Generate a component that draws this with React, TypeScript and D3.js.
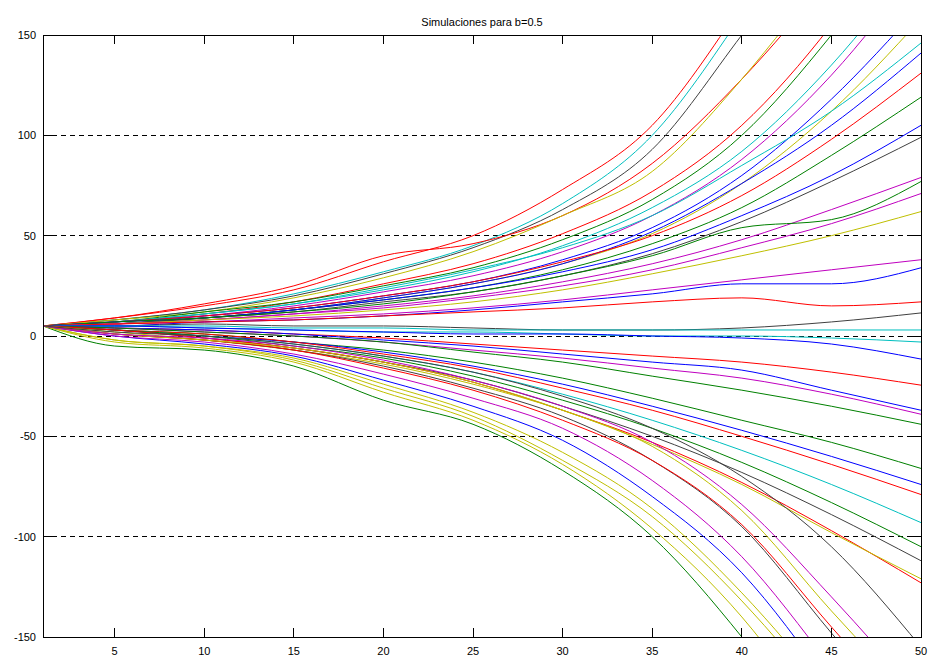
import React from "react";
import * as d3 from "d3";

const TITLE = "Simulaciones para b=0.5";
const STEPS = [1, 5, 10, 15, 20, 25, 30, 35, 40, 45, 50];
const X_TICKS = [5, 10, 15, 20, 25, 30, 35, 40, 45, 50];
const Y_TICKS = [-150, -100, -50, 0, 50, 100, 150];
const GRID_VALUES = [-100, -50, 0, 50, 100];

// paths that leave through the top edge
const topSeries = [
  [5, 9, 15, 23, 37, 50, 73, 105, 165, 235, 320],
  [5, 8, 13, 21, 32, 45, 66, 100, 160, 230, 300],
  [5, 8, 13, 20, 31, 44, 63, 93, 150, 210, 280],
  [5, 9, 16, 25, 40, 46, 60, 86, 128, 180, 240],
  [5, 8, 12, 19, 29, 42, 60, 82, 128, 185, 250],
  [5, 7, 11, 17, 26, 36, 51, 72, 105, 155, 220],
  [5, 7, 12, 17, 25, 34, 48, 68, 100, 150, 210],
  [5, 7, 11, 16, 23, 32, 45, 64, 92, 135, 190],
  [5, 6, 10, 15, 22, 30, 42, 60, 88, 130, 185],
  [5, 7, 10, 14, 20, 27, 38, 54, 80, 118, 165],
  [5, 6, 9, 13, 19, 26, 36, 51, 76, 112, 158],
];
const topColors = ["r", "c", "k", "r", "y", "r", "g", "c", "m", "b", "y"];

// paths ending in the upper half
const upperSeries = [
  [5, 7, 11, 16, 24, 33, 44, 60, 85, 112, 146],
  [5, 6, 9, 13, 19, 26, 36, 52, 76, 105, 141],
  [5, 7, 10, 14, 20, 27, 37, 50, 70, 98, 131],
  [5, 6, 9, 13, 18, 24, 33, 46, 64, 90, 119],
  [5, 7, 9, 13, 18, 24, 32, 43, 60, 80, 105],
  [5, 6, 9, 12, 17, 22, 30, 41, 57, 77, 99],
  [5, 6, 8, 11, 15, 20, 27, 36, 48, 63, 79],
  [5, 7, 9, 12, 16, 22, 30, 40, 54, 58, 77],
  [5, 6, 8, 11, 14, 19, 25, 33, 44, 56, 71],
  [5, 6, 8, 10, 13, 17, 23, 31, 40, 50, 62],
  [5, 6, 7, 9, 11, 14, 18, 23, 28, 33, 38],
  [5, 5, 7, 8, 10, 13, 17, 21, 26, 26, 34],
  [5, 6, 7, 8, 10, 12, 14, 17, 19, 15, 17],
  [5, 5, 6, 5, 5, 4, 3, 3, 4, 7, 11.5],
  [5, 5, 5, 4, 4, 3, 3, 3, 3, 3, 3],
];
const upperColors = ["c", "b", "r", "g", "b", "k", "m", "g", "m", "y", "m", "b", "r", "k", "c"];

// paths ending in the lower half
const lowerSeries = [
  [5, 5, 4, 3, 2, 2, 1, 0, 0, -1, -3],
  [5, 5, 4, 3, 2, 1, 1, 0, -1, -4, -11.5],
  [5, 4, 3, 1, -1, -4, -7, -10, -13, -18, -24.5],
  [5, 4, 3, 1, -2, -5, -9, -13, -17, -27, -37],
  [5, 4, 2, 0, -3, -7, -11, -16, -21, -29, -39],
  [5, 4, 2, 0, -3, -8, -13, -20, -27, -35, -44],
  [5, 3, 1, -3, -7, -13, -21, -31, -42, -53, -66],
  [5, 3, 0, -3, -8, -15, -24, -35, -47, -60, -74],
  [5, 3, 1, -3, -9, -16, -26, -37, -50, -64, -79],
  [5, 3, 0, -4, -10, -18, -29, -42, -57, -74, -93],
  [5, 3, 0, -5, -11, -20, -32, -46, -63, -83, -105],
  [5, 3, -1, -6, -13, -22, -35, -50, -68, -89, -112],
  [5, 3, -1, -6, -13, -23, -37, -53, -73, -97, -123],
  [5, 2, -2, -7, -14, -24, -37, -54, -74, -98, -121],
];
const lowerColors = ["c", "b", "r", "b", "m", "g", "g", "b", "r", "c", "g", "k", "r", "y"];

// paths that leave through the bottom edge
const bottomSeries = [
  [5, -5, -7, -15, -32, -44, -67, -100, -150, -210, -280],
  [5, -3, -6, -13, -28, -42, -64, -96, -140, -200, -270],
  [5, -2, -5, -12, -26, -40, -62, -90, -132, -185, -250],
  [5, -2, -5, -11, -24, -38, -58, -86, -128, -180, -240],
  [5, 0, -4, -10, -22, -35, -52, -80, -118, -175, -240],
  [5, 0, -3, -9, -19, -31, -46, -72, -110, -165, -225],
  [5, 1, -2, -7, -15, -26, -40, -62, -95, -148, -200],
  [5, 1, -2, -7, -16, -27, -42, -62, -94, -145, -195],
  [5, 1, -2, -6, -13, -23, -37, -55, -87, -137, -185],
  [5, 1, -1, -5, -12, -22, -35, -53, -84, -130, -180],
  [5, 2, 0, -4, -10, -18, -30, -46, -70, -105, -155],
];
const bottomColors = ["g", "y", "y", "y", "b", "m", "k", "r", "y", "m", "k"];

const COLOR_CODES: Record<string, string> = {
  b: "#0000ff",
  g: "#008000",
  r: "#ff0000",
  c: "#00bfbf",
  m: "#bf00bf",
  y: "#bfbf00",
  k: "#404040",
};

const W = 930;
const H = 661;
const M = { left: 43, right: 9, top: 35, bottom: 24 };

export default function App() {
  const x = d3.scaleLinear().domain([1, 50]).range([M.left, W - M.right]);
  const y = d3.scaleLinear().domain([-150, 150]).range([H - M.bottom, M.top]);
  const line = d3
    .line<number>()
    .x((_, i) => x(STEPS[i]))
    .y((d) => y(d))
    .curve(d3.curveMonotoneX);

  const all: { v: number[]; c: string }[] = [];
  const groups: [number[][], string[]][] = [
    [topSeries, topColors],
    [upperSeries, upperColors],
    [lowerSeries, lowerColors],
    [bottomSeries, bottomColors],
  ];
  groups.forEach(([s, c]) => s.forEach((v, i) => all.push({ v, c: c[i] })));

  const x0 = x(1);
  const x1 = x(50);
  const yTop = y(150);
  const yBot = y(-150);
  const tick = 9;
  const font = "'Liberation Sans', Arial, Helvetica, sans-serif";

  return (
    <svg
      width={W}
      height={H}
      style={{ position: "absolute", left: 0, top: 0, background: "#fff" }}
      fontFamily={font}
    >
      <defs>
        <clipPath id="plot">
          <rect x={x0} y={yTop} width={x1 - x0} height={yBot - yTop} />
        </clipPath>
      </defs>
      <rect x={0} y={0} width={W} height={H} fill="#fff" />
      {GRID_VALUES.map((g) => (
        <line
          key={"g" + g}
          x1={x0}
          x2={x1}
          y1={y(g)}
          y2={y(g)}
          stroke="#000"
          strokeWidth={1}
          strokeDasharray="5,4"
          shapeRendering="crispEdges"
        />
      ))}
      <g clipPath="url(#plot)" fill="none" strokeWidth={1}>
        {all.map((s, i) => (
          <path key={i} d={line(s.v) || ""} stroke={COLOR_CODES[s.c]} />
        ))}
      </g>
      <rect
        x={x0}
        y={yTop}
        width={x1 - x0}
        height={yBot - yTop}
        fill="none"
        stroke="#000"
        strokeWidth={1}
        shapeRendering="crispEdges"
      />
      {X_TICKS.map((t) => (
        <g key={"xt" + t} shapeRendering="crispEdges">
          <line x1={x(t)} x2={x(t)} y1={yBot} y2={yBot - tick} stroke="#000" />
          <line x1={x(t)} x2={x(t)} y1={yTop} y2={yTop + tick} stroke="#000" />
          <text x={x(t)} y={yBot + 18} fontSize={11} textAnchor="middle" fill="#000">
            {t}
          </text>
        </g>
      ))}
      {Y_TICKS.map((t) => (
        <g key={"yt" + t} shapeRendering="crispEdges">
          <line x1={x0} x2={x0 + tick} y1={y(t)} y2={y(t)} stroke="#000" />
          <line x1={x1} x2={x1 - tick} y1={y(t)} y2={y(t)} stroke="#000" />
          <text x={x0 - 7} y={y(t) + 4} fontSize={11} textAnchor="end" fill="#000">
            {t}
          </text>
        </g>
      ))}
      <text x={(x0 + x1) / 2} y={26} fontSize={11} textAnchor="middle" fill="#000">
        {TITLE}
      </text>
    </svg>
  );
}
